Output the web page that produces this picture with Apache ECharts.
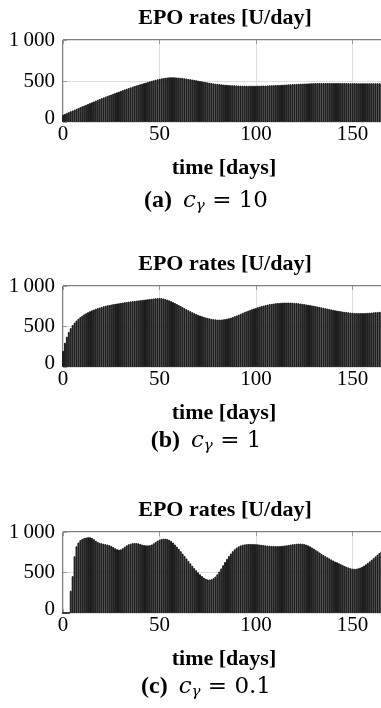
<!DOCTYPE html>
<html>
<head>
<meta charset="utf-8">
<script src="https://cdn.jsdelivr.net/npm/echarts@6/dist/echarts.min.js"></script>
<style>
  html, body { margin: 0; padding: 0; background: #fff; overflow: hidden; }
  #chart { width: 381px; height: 708px; }
</style>
</head>
<body>
<div id="chart"></div>
<script>
// Daily EPO rates [U/day], one value per day starting at day 0
const epoA = [
  90,100,111,121,131,141,151,161,171,181,
  191,201,211,221,231,241,251,261,271,281,
  290,299,308,317,326,335,344,353,362,371,
  380,389,398,406,414,422,430,438,446,453,
  460,467,474,481,489,496,503,509,515,521,
  527,532,536,540,543,545,546,546,545,543,
  541,539,536,533,530,526,522,518,514,510,
  505,500,496,491,487,483,479,475,471,468,
  465,462,459,457,455,453,451,449,448,447,
  446,445,444,443,443,442,442,442,442,442,
  442,443,443,444,444,445,446,447,448,449,
  450,451,452,454,455,456,458,459,460,462,
  463,464,466,467,468,469,470,471,472,473,
  474,474,475,475,476,476,476,476,476,476,
  476,476,476,476,475,475,475,475,474,474,
  474,474,474,473,473,473,473,473,473,473,
  473,473,473,473,473,473,473,473,473,473,473
];
const epoB = [
  200,300,375,433,480,517,548,574,597,617,
  634,650,664,677,689,700,710,719,727,735,
  742,749,755,761,766,771,776,780,784,788,
  792,796,800,804,807,810,813,816,819,822,
  825,828,831,834,837,840,843,846,849,851,
  852,850,846,840,832,823,813,802,790,778,
  765,752,739,726,713,701,689,677,666,655,
  645,636,627,619,612,606,600,595,591,588,
  586,585,586,588,592,597,603,610,618,627,
  636,646,656,666,676,686,696,705,714,723,
  731,739,746,753,759,765,770,775,779,783,
  786,789,791,793,795,796,796,796,795,794,
  792,790,787,784,781,777,773,769,765,760,
  756,751,746,741,736,731,726,721,716,711,
  706,701,697,693,689,685,681,678,675,672,
  670,668,667,666,666,666,667,668,669,671,
  673,675,677,679,681,683,686,688,690,692,694
];
const epoC = [
  0,0,0,0,275,455,700,824,870,900,
  915,925,932,936,935,928,912,892,877,866,
  860,855,850,845,838,828,815,800,788,782,
  786,800,818,835,848,856,862,865,864,860,
  853,846,840,836,835,838,846,860,876,892,
  905,914,918,918,914,905,890,870,846,820,
  792,763,733,703,673,643,613,583,555,528,
  502,478,457,438,424,415,413,418,430,450,
  478,512,550,590,630,668,703,735,763,787,
  807,822,834,842,847,850,852,853,853,852,
  850,848,845,842,838,835,832,830,828,827,
  826,826,827,829,831,834,837,841,845,849,
  852,855,857,857,856,852,845,835,823,810,
  795,779,763,747,731,716,702,688,675,662,
  649,636,627,615,603,591,580,570,561,553,
  548,546,547,552,560,571,585,601,619,638,
  658,678,699,720,741,761,780,798,814,828,840
];

const panels = [
  { values: epoA, tag: '(a)', gamma: '10' },
  { values: epoB, tag: '(b)', gamma: '1' },
  { values: epoC, tag: '(c)', gamma: '0.1' }
];

const xTicks = [0, 50, 100, 150];
const yTicks = [0, 500, 1000];
const xMax = 170;
const yMax = 1000;

const plotTitle = 'EPO rates [U/day]';
const xName = 'time [days]';

// Layout of the three stacked panels
const FONT = 'Liberation Serif';
const MATH = 'DejaVu Serif';
const gridLeft = 63;
const gridWidth = 328;
const gridTops = [40, 286, 532];
const gridHeights = [82, 81, 81];
const captionY = [201, 441, 687];

const chart = echarts.init(document.getElementById('chart'), null, { renderer: 'canvas' });

const grids = [], xAxes = [], yAxes = [], series = [], graphics = [];

panels.forEach((p, i) => {
  const top = gridTops[i], h = gridHeights[i];
  grids.push({
    left: gridLeft, top: top, width: gridWidth, height: h,
    outerBoundsMode: 'none', containLabel: false,
    show: true, borderColor: '#000', borderWidth: 1, backgroundColor: 'transparent'
  });
  // bottom axis with labels
  xAxes.push({
    type: 'value', gridIndex: i, position: 'bottom',
    min: 0, max: xMax, interval: 50,
    axisLine: { show: false },
    axisTick: { show: true, inside: true, length: 4, lineStyle: { color: '#999' } },
    splitLine: { show: true, lineStyle: { color: '#dedede', width: 1 } },
    axisLabel: {
      show: true, margin: 2, fontSize: 21, fontFamily: FONT, color: '#000',
      showMaxLabel: false,
      formatter: v => xTicks.indexOf(v) >= 0 ? String(v) : ''
    }
  });
  // mirrored ticks along the top edge
  xAxes.push({
    type: 'value', gridIndex: i, position: 'top',
    min: 0, max: xMax, interval: 50,
    axisLine: { show: false },
    axisTick: { show: true, inside: true, length: 4, lineStyle: { color: '#999' } },
    splitLine: { show: false },
    axisLabel: { show: false }
  });
  yAxes.push({
    type: 'value', gridIndex: i,
    min: 0, max: yMax, interval: 500,
    axisLine: { show: false },
    axisTick: { show: true, inside: true, length: 4, lineStyle: { color: '#999' } },
    splitLine: { show: true, lineStyle: { color: '#dedede', width: 1 } },
    axisLabel: {
      show: true, margin: 8, fontSize: 21, fontFamily: FONT, color: '#000',
      formatter: v => {
        if (yTicks.indexOf(v) < 0) return '';
        if (v === 0) return '{z|0}';
        return v >= 1000 ? '1\u2009000' : String(v);
      },
      rich: { z: { fontSize: 21, fontFamily: FONT, color: '#000', padding: [0, 0, 8, 0] } }
    }
  });
  series.push({
    type: 'bar',
    xAxisIndex: i * 2, yAxisIndex: i,
    data: p.values.map((v, d) => [d, v]),
    barCategoryGap: '0%',
    barWidth: '100%',
    itemStyle: { color: '#161616', borderColor: '#1c1c1c', borderWidth: 1 },
    silent: true,
    animation: false
  });

  const cx = 225;
  graphics.push({
    type: 'text', x: cx, y: top - 22,
    style: { text: plotTitle, fontSize: 22, fontWeight: 'bold', fontFamily: FONT, fill: '#000', align: 'center', verticalAlign: 'middle' }
  });
  graphics.push({
    type: 'text', x: cx - 1, y: top + h + 46,
    style: { text: xName, fontSize: 22, fontWeight: 'bold', fontFamily: FONT, fill: '#000', align: 'center', verticalAlign: 'middle' }
  });
  graphics.push({
    type: 'text', x: 206, y: captionY[i],
    style: {
      text: '{b|' + p.tag + '}{g|  }{i|c}{s|γ}{n| = ' + p.gamma + '}',
      align: 'center', verticalAlign: 'middle', fill: '#000',
      rich: {
        b: { fontSize: 24, fontWeight: 'bold', fontFamily: FONT, fill: '#000' },
        g: { fontSize: 22, fontFamily: FONT, fill: '#000' },
        i: { fontSize: 23, fontStyle: 'italic', fontFamily: MATH, fill: '#000' },
        s: { fontSize: 15, fontStyle: 'italic', fontFamily: MATH, fill: '#000', padding: [10, 0, 0, 0] },
        n: { fontSize: 23, fontFamily: MATH, fill: '#000' }
      }
    }
  });
});

chart.setOption({
  animation: false,
  backgroundColor: '#fff',
  grid: grids,
  xAxis: xAxes,
  yAxis: yAxes,
  series: series,
  graphic: graphics
});
</script>
</body>
</html>
